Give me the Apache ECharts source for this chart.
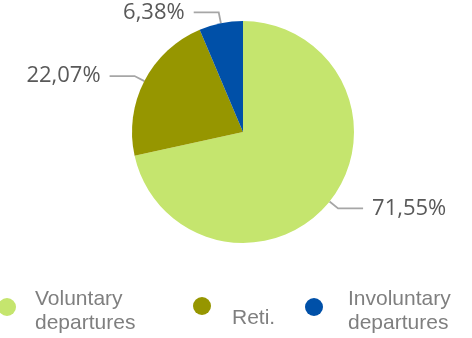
<!DOCTYPE html>
<html><head><meta charset="utf-8">
<script src="https://cdn.jsdelivr.net/npm/echarts@6/dist/echarts.min.js"></script>
<style>html,body{margin:0;padding:0;background:#fff}#c{width:472px;height:338px}</style>
</head><body><div id="c"></div>
<script>
const categories = ['Voluntary departures', 'Reti.', 'Involuntary departures'];
const legendLines = [['Voluntary', 'departures'], ['Reti.'], ['Involuntary', 'departures']];
const values = [71.55, 22.07, 6.38];
const colors = ['#c5e56e', '#969600', '#0050a8'];

const chart = echarts.init(document.getElementById('c'));
const txt = {fontFamily: 'Liberation Sans', fontSize: 21, color: '#7f7f7f', lineHeight: 24};
function legendFmt(n) {
  const lines = legendLines[categories.indexOf(n)];
  if (lines.length === 1) return '{s| }\n{t|' + lines[0] + '}';
  return '{p| }\n' + lines.map(l => '{t|' + l + '}').join('\n');
}
function mkLegend(i, left, top, padLeft) {
  return {
    data: [categories[i]], left: left, top: top,
    orient: 'horizontal', icon: 'circle', itemWidth: 18, itemHeight: 18,
    formatter: legendFmt, selectedMode: false,
    textStyle: {
      padding: [0, 0, 0, padLeft],
      rich: {
        t: txt,
        s: {fontSize: 20, lineHeight: 24},
        p: {fontSize: 8, lineHeight: 8}
      }
    }
  };
}
chart.setOption({
  animation: false,
  legend: [mkLegend(0, -7, 274, 14), mkLegend(1, 188, 279, 16), mkLegend(2, 300, 274, 20)],
  series: [{
    type: 'pie',
    center: [243, 132],
    radius: 111,
    startAngle: 90,
    clockwise: true,
    data: categories.map((c, i) => ({name: c, value: values[i], itemStyle: {color: colors[i]}})),
    label: {
      show: true, position: 'outside',
      formatter: p => p.value.toFixed(2).replace('.', ',') + '%',
      fontFamily: 'Open Sans', fontSize: 22, color: '#595959',
      distanceToLabelLine: 9
    },
    labelLine: {show: true, length: 11, length2: 25, lineStyle: {color: '#a6a6a6', width: 1.8}},
    emphasis: {disabled: true}
  }]
});
</script></body></html>
